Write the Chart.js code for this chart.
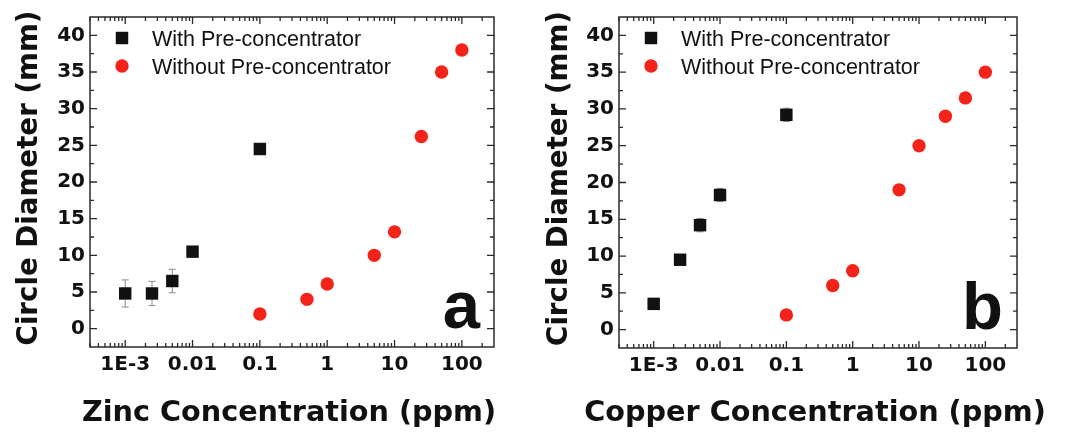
<!DOCTYPE html>
<html><head><meta charset="utf-8">
<script src="https://cdn.jsdelivr.net/npm/chart.js@4.4.1/dist/chart.umd.min.js"></script>
<style>
html,body{margin:0;padding:0;background:#fff;}
#wrap{position:relative;width:1067px;height:434px;overflow:hidden;background:#fff;}
.panel{position:absolute;top:0;height:434px;}
</style></head><body>
<div id="wrap">
<div class="panel" style="left:0;width:530px"><canvas id="ca"></canvas></div>
<div class="panel" style="left:530px;width:537px"><canvas id="cb"></canvas></div>
</div>
<script>
// ---- data ----
const xTickValues = [0.001, 0.01, 0.1, 1, 10, 100];
const xTickLabels = ['1E-3', '0.01', '0.1', '1', '10', '100'];
const yTickValues = [0, 5, 10, 15, 20, 25, 30, 35, 40];

const seriesNames = ['With Pre-concentrator', 'Without Pre-concentrator'];
const yTitle = 'Circle Diameter (mm)';

const xWith = [0.001, 0.0025, 0.005, 0.01, 0.1];
const xWithout = [0.1, 0.5, 1, 5, 10, 25, 50, 100];

const zincWith = [4.8, 4.8, 6.5, 10.5, 24.5];
const zincWithErr = [1.85, 1.65, 1.6, 0.4, 0.4];
const zincWithout = [2.0, 4.0, 6.1, 10.0, 13.2, 26.2, 35.0, 38.0];

const copperWith = [3.5, 9.5, 14.2, 18.3, 29.2];
const copperWithErr = [0.4, 0.7, 0.9, 0.9, 0.9];
const copperWithout = [2.0, 6.0, 8.0, 19.0, 25.0, 29.0, 31.5, 35.0];

const INK = '#111';
const RED = '#f4231a';

// ---- plugins ----
const errPlugin = {
  id: 'errbars',
  beforeDatasetsDraw(chart) {
    const ctx = chart.ctx, ys = chart.scales.y, xs = chart.scales.x;
    chart.data.datasets.forEach(ds => {
      if (!ds.yerr) return;
      ctx.save();
      ctx.strokeStyle = '#8a8a8a';
      ctx.lineWidth = 1;
      ds.data.forEach((p, i) => {
        const e = ds.yerr[i];
        const px = xs.getPixelForValue(p.x);
        const y1 = ys.getPixelForValue(p.y + e), y2 = ys.getPixelForValue(p.y - e);
        ctx.beginPath();
        ctx.moveTo(px, y1); ctx.lineTo(px, y2);
        ctx.moveTo(px - 3.5, y1); ctx.lineTo(px + 3.5, y1);
        ctx.moveTo(px - 3.5, y2); ctx.lineTo(px + 3.5, y2);
        ctx.stroke();
      });
      ctx.restore();
    });
  }
};

const framePlugin = {
  id: 'frame',
  afterDraw(chart) {
    const ctx = chart.ctx, a = chart.chartArea, xs = chart.scales.x, ys = chart.scales.y;
    ctx.save();
    ctx.strokeStyle = '#2a2a2a';
    ctx.lineWidth = 1.5;
    ctx.strokeRect(a.left, a.top, a.right - a.left, a.bottom - a.top);
    ctx.lineWidth = 1.3;
    ctx.beginPath();
    yTickValues.forEach(v => {
      const py = ys.getPixelForValue(v);
      ctx.moveTo(a.left, py); ctx.lineTo(a.left + 7, py);
      ctx.moveTo(a.right, py); ctx.lineTo(a.right - 7, py);
      const pm = ys.getPixelForValue(v + 2.5);
      if (v + 2.5 < ys.max) {
        ctx.moveTo(a.left, pm); ctx.lineTo(a.left + 4, pm);
        ctx.moveTo(a.right, pm); ctx.lineTo(a.right - 4, pm);
      }
    });
    for (let d = -4; d <= 2; d++) {
      for (let k = 1; k <= 9; k++) {
        const v = k * Math.pow(10, d);
        if (v <= xs.min || v >= xs.max) continue;
        const px = xs.getPixelForValue(v);
        const L = k === 1 ? 7 : 4;
        ctx.moveTo(px, a.bottom); ctx.lineTo(px, a.bottom - L);
        ctx.moveTo(px, a.top); ctx.lineTo(px, a.top + L);
      }
    }
    ctx.stroke();
    ctx.restore();
  }
};

const legendPlugin = {
  id: 'inlegend',
  afterDraw(chart) {
    const ctx = chart.ctx, a = chart.chartArea;
    ctx.save();
    ctx.font = '21.5px "Liberation Sans", Arial, sans-serif';
    ctx.textBaseline = 'alphabetic';
    ctx.textAlign = 'left';
    chart.data.datasets.forEach((ds, i) => {
      const mx = a.left + 32, my = a.top + 21 + i * 28;
      ctx.fillStyle = ds.backgroundColor;
      if (ds.pointStyle === 'rect') {
        const s = ds.pointRadius * Math.SQRT1_2;
        ctx.fillRect(mx - s, my - s, 2 * s, 2 * s);
      } else {
        ctx.beginPath(); ctx.arc(mx, my, ds.pointRadius, 0, Math.PI * 2); ctx.fill();
      }
      ctx.fillStyle = INK;
      ctx.fillText(ds.label, a.left + 62, a.top + 28.5 + i * 28);
    });
    ctx.restore();
  }
};

// axis titles drawn without width squeezing
const titlePlugin = {
  id: 'axtitles',
  afterDraw(chart, args, opts) {
    const ctx = chart.ctx, a = chart.chartArea;
    ctx.save();
    ctx.fillStyle = INK;
    ctx.textAlign = 'center';
    ctx.textBaseline = 'alphabetic';
    ctx.font = 'bold 28.7px "DejaVu Sans", sans-serif';
    ctx.fillText(opts.x, (a.left + a.right) / 2 - 3, 421);
    ctx.translate(37, (a.top + a.bottom) / 2 - 4);
    ctx.rotate(-Math.PI / 2);
    ctx.font = 'bold 27.7px "DejaVu Sans", sans-serif';
    ctx.fillText(opts.y, 0, 0);
    ctx.restore();
  }
};

const panelPlugin = {
  id: 'panel',
  afterDraw(chart, args, opts) {
    const ctx = chart.ctx, a = chart.chartArea;
    ctx.save();
    ctx.font = 'bold 67px "Liberation Sans", Arial, sans-serif';
    ctx.fillStyle = INK;
    ctx.textAlign = 'right';
    ctx.textBaseline = 'alphabetic';
    ctx.fillText(opts.text, a.right - 14, a.bottom - 19);
    ctx.restore();
  }
};

function makeChart(id, p) {
  return new Chart(document.getElementById(id), {
    type: 'scatter',
    data: {
      datasets: [
        { label: seriesNames[0], data: xWith.map((x, i) => ({ x, y: p.yWith[i] })),
          yerr: p.err, pointStyle: 'rect', pointRadius: 8.8, backgroundColor: INK,
          borderColor: INK, borderWidth: 0 },
        { label: seriesNames[1], data: xWithout.map((x, i) => ({ x, y: p.yWithout[i] })),
          pointStyle: 'circle', pointRadius: 6.7, backgroundColor: RED,
          borderColor: RED, borderWidth: 0 }
      ]
    },
    options: {
      responsive: true, maintainAspectRatio: false, animation: false,
      layout: { padding: { top: p.top, right: p.right, left: 0, bottom: 0 } },
      plugins: { legend: { display: false }, tooltip: { enabled: false },
        panel: { text: p.letter }, axtitles: { x: p.xTitle, y: yTitle } },
      scales: {
        x: {
          type: 'logarithmic', min: 3e-4, max: 300,
          afterBuildTicks: s => { s.ticks = xTickValues.map(v => ({ value: v })); },
          afterFit: s => { s.height = p.xh; },
          grid: { display: false, drawTicks: false }, border: { display: false },
          ticks: { autoSkip: false, maxRotation: 0, padding: 6, color: INK,
            font: { family: 'DejaVu Sans', weight: 'bold', size: 20 },
            callback: (v, i) => xTickLabels[i] },
          title: { display: false }
        },
        y: {
          type: 'linear', min: -2.5, max: 42.5,
          afterBuildTicks: s => { s.ticks = yTickValues.map(v => ({ value: v })); },
          afterFit: s => { s.width = p.yw; },
          grid: { display: false, drawTicks: false }, border: { display: false },
          ticks: { padding: 5, color: INK,
            font: { family: 'DejaVu Sans', weight: 'bold', size: 20 } },
          title: { display: false }
        }
      }
    },
    plugins: [errPlugin, framePlugin, legendPlugin, titlePlugin, panelPlugin]
  });
}

makeChart('ca', { yWith: zincWith, err: zincWithErr, yWithout: zincWithout,
  xTitle: 'Zinc Concentration (ppm)', letter: 'a', top: 12, right: 36, xh: 87, yw: 90 });
makeChart('cb', { yWith: copperWith, err: copperWithErr, yWithout: copperWithout,
  xTitle: 'Copper Concentration (ppm)', letter: 'b', top: 13, right: 50, xh: 86, yw: 89 });
</script>
</body></html>
